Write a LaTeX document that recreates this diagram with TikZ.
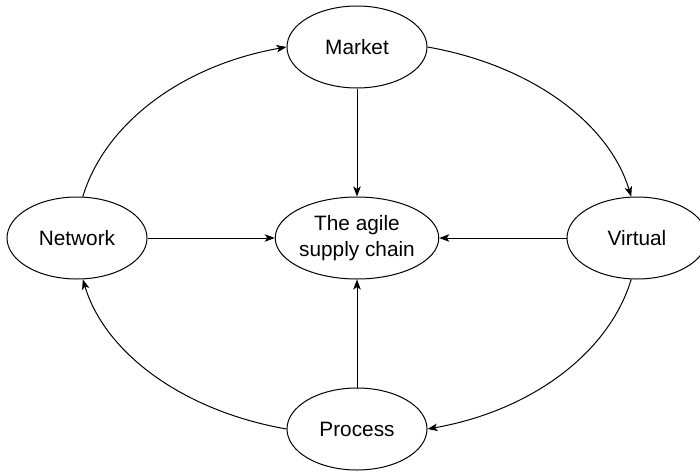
\documentclass[tikz,border=0pt]{standalone}
\usepackage{fontspec}
\setmainfont{Liberation Sans}
\usetikzlibrary{shapes.geometric,arrows.meta}
\begin{document}
\begin{tikzpicture}[x=1pt,y=-1pt,
  oval/.style={ellipse,draw,line width=1pt,minimum width=140pt,minimum height=82pt,inner sep=0pt,
    font=\fontsize{20.8}{26}\selectfont,align=center},
  link/.style={line width=1pt,-{Stealth[length=10pt,width=7.5pt,inset=2.5pt]}}]
\useasboundingbox (0,0) rectangle (700,471);
\clip (0,0) rectangle (700,471);
\node[oval] (mkt) at (357,47) {Market};
\node[oval] (ctr) at (357,238) {The agile\\supply chain};
\node[oval] (net) at (77,238) {Network};
\node[oval] (vir) at (637,238) {Virtual};
\node[oval] (pro) at (357,429) {Process};
\draw[link] (mkt.south) -- (ctr.north);
\draw[link] (net.east) -- (ctr.west);
\draw[link] (vir.west) -- (ctr.east);
\draw[link] (pro.north) -- (ctr.south);
\draw[link] (net.82) .. controls +(22.2,-73.6) and +(-103.8,18.2) .. (mkt.west);
\draw[link] (mkt.east) .. controls +(103.8,18.2) and +(-22.2,-73.6) .. (vir.98);
\draw[link] (vir.-98) .. controls +(-22.2,73.6) and +(103.8,-18.2) .. (pro.east);
\draw[link] (pro.west) .. controls +(-103.8,-18.2) and +(22.2,73.6) .. (net.-82);
\end{tikzpicture}
\end{document}
